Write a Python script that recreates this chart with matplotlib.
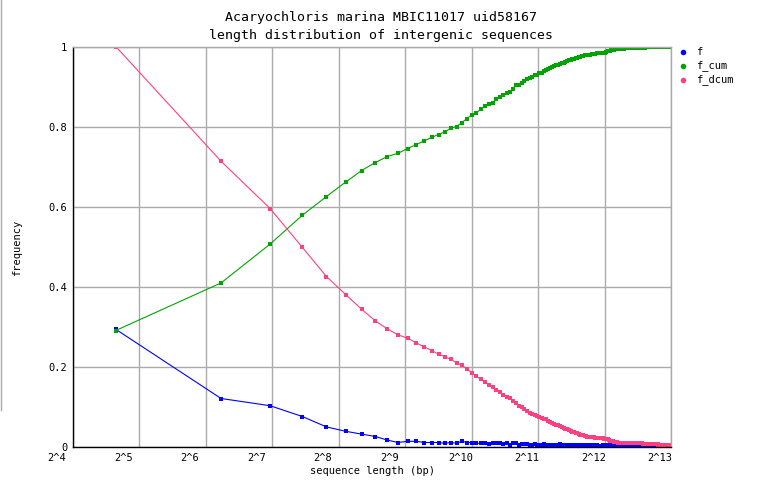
import numpy as np
import matplotlib
matplotlib.use("Agg")
import matplotlib.pyplot as plt
from matplotlib.lines import Line2D
from matplotlib.transforms import offset_copy

plt.rcParams['font.family'] = ['DejaVu Sans Mono']

title1 = "Acaryochloris marina MBIC11017 uid58167"
title2 = "length distribution of intergenic sequences"

# intergenic lengths in 50 bp bins (bin centres 25, 75, ..., 8175)
seq_len = np.arange(25, 8200, 50)

f = [0.293, 0.120, 0.102, 0.075, 0.049, 0.038, 0.031, 0.025, 0.016, 0.010,
     0.013, 0.013, 0.010, 0.010, 0.010, 0.008, 0.010, 0.008, 0.013, 0.010,
     0.010, 0.008, 0.008, 0.010, 0.006, 0.010, 0.010, 0.008, 0.007, 0.008,
     0.004, 0.010, 0.009, 0.004, 0.007, 0.007, 0.006, 0.004, 0.005, 0.006,
     0.004, 0.005, 0.004, 0.006, 0.005, 0.005, 0.004, 0.004, 0.004, 0.004,
     0.004, 0.006, 0.004, 0.003, 0.004, 0.005, 0.004, 0.003, 0.003, 0.004,
     0.003, 0.003, 0.004, 0.003, 0.003, 0.003, 0.003, 0.003, 0.002, 0.003,
     0.002, 0.003, 0.002, 0.003, 0.002, 0.003, 0.002, 0.002, 0.002, 0.002,
     0.003, 0.002, 0.002, 0.004, 0.004, 0.003, 0.003, 0.003, 0.002, 0.003,
     0.002, 0.003, 0.002, 0.003, 0.002, 0.002, 0.003, 0.002, 0.002, 0.002,
     0.002, 0.003, 0.002, 0.002, 0.001, 0.002, 0.002, 0.001, 0.002, 0.002,
     0.002, 0.001, 0.002, 0.002, 0.002, 0.001, 0.002, 0.002, 0.002, 0.001,
     0.003, 0.002, 0.002, 0.002, 0.002, 0.003, 0.002, 0.002, 0.001, 0.002,
     0.002, 0.002, 0.001, 0.002, 0.002, 0.002, 0.001, 0.002, 0.002, 0.002,
     0.002, 0.003, 0.002, 0.002, 0.001, 0.002, 0.002, 0.002, 0.001, 0.002,
     0.002, 0.003, 0.002, 0.002, 0.002, 0.001, 0.002, 0.002, 0.002, 0.002,
     0.002, 0.001, 0.002, 0.002]

f_cum = [0.290, 0.409, 0.506, 0.578, 0.625, 0.661, 0.690, 0.710, 0.725, 0.733,
         0.745, 0.755, 0.764, 0.773, 0.780, 0.787, 0.796, 0.800, 0.810, 0.820,
         0.829, 0.834, 0.843, 0.851, 0.856, 0.860, 0.868, 0.874, 0.879, 0.885,
         0.887, 0.895, 0.903, 0.905, 0.910, 0.915, 0.919, 0.921, 0.924, 0.928,
         0.930, 0.933, 0.935, 0.939, 0.942, 0.945, 0.947, 0.949, 0.951, 0.953,
         0.955, 0.957, 0.959, 0.960, 0.962, 0.964, 0.966, 0.967, 0.968, 0.970,
         0.971, 0.972, 0.974, 0.975, 0.976, 0.977, 0.978, 0.979, 0.979, 0.980,
         0.980, 0.981, 0.981, 0.982, 0.982, 0.983, 0.983, 0.983, 0.983, 0.983,
         0.984, 0.984, 0.984, 0.986, 0.988, 0.989, 0.990, 0.991, 0.991, 0.992,
         0.992, 0.993, 0.993, 0.994, 0.994, 0.994, 0.995, 0.995, 0.995, 0.995,
         0.995, 0.996, 0.996, 0.996, 0.996, 0.996, 0.996, 0.996, 0.996, 0.996,
         0.996, 0.996, 0.996, 0.996, 0.996, 0.996, 0.996, 0.996, 0.996, 0.996,
         0.997, 0.997, 0.997, 0.997, 0.997, 0.998, 0.998, 0.998, 0.998, 0.998,
         0.998, 0.998, 0.998, 0.998, 0.998, 0.998, 0.998, 0.998, 0.998, 0.998,
         0.998, 0.999, 0.999, 0.999, 0.999, 0.999, 0.999, 0.999, 0.999, 0.999,
         0.999, 1.000, 1.000, 1.000, 1.000, 1.000, 1.000, 1.000, 1.000, 1.000,
         1.000, 1.000, 1.000, 1.000]

f_dcum = [1.000, 0.713, 0.595, 0.498, 0.425, 0.380, 0.343, 0.314, 0.294, 0.279,
          0.271, 0.259, 0.249, 0.240, 0.231, 0.224, 0.218, 0.209, 0.203, 0.194,
          0.184, 0.176, 0.168, 0.161, 0.154, 0.148, 0.141, 0.136, 0.130, 0.125,
          0.121, 0.115, 0.109, 0.102, 0.098, 0.093, 0.089, 0.085, 0.082, 0.079,
          0.077, 0.074, 0.072, 0.070, 0.068, 0.065, 0.062, 0.059, 0.057, 0.055,
          0.053, 0.051, 0.049, 0.047, 0.045, 0.043, 0.041, 0.039, 0.037, 0.036,
          0.034, 0.033, 0.032, 0.030, 0.029, 0.028, 0.027, 0.026, 0.025, 0.025,
          0.024, 0.024, 0.023, 0.023, 0.022, 0.022, 0.021, 0.021, 0.021, 0.021,
          0.021, 0.020, 0.020, 0.019, 0.018, 0.016, 0.015, 0.014, 0.013, 0.013,
          0.012, 0.012, 0.011, 0.011, 0.010, 0.010, 0.010, 0.009, 0.009, 0.009,
          0.009, 0.009, 0.009, 0.009, 0.008, 0.008, 0.008, 0.008, 0.008, 0.008,
          0.008, 0.008, 0.008, 0.008, 0.008, 0.008, 0.008, 0.008, 0.008, 0.008,
          0.008, 0.008, 0.007, 0.007, 0.007, 0.007, 0.007, 0.007, 0.007, 0.007,
          0.007, 0.007, 0.007, 0.007, 0.007, 0.007, 0.007, 0.007, 0.007, 0.007,
          0.007, 0.007, 0.007, 0.005, 0.004, 0.004, 0.004, 0.004, 0.004, 0.004,
          0.004, 0.004, 0.004, 0.003, 0.003, 0.003, 0.003, 0.003, 0.003, 0.003,
          0.003, 0.003, 0.003, 0.003]

series_names = ["f", "f_cum", "f_dcum"]
colors = ["#0000ff", "#00a400", "#ff4080"]
grid_col = "#aaaaaa"

W, H = 762, 498
fig = plt.figure(figsize=(W / 100, H / 100), dpi=100)
ax = fig.add_axes([73 / W, 1 - 446.5 / H, (671 - 73) / W, 400 / H])

for name, vals, c in zip(series_names, [f, f_cum, f_dcum], colors):
    ax.plot(seq_len, vals, color=c, lw=0.8, marker='s', ms=2.2, mew=0, label=name)

ax.set_xscale('log', base=2)
ax.set_xlim(2 ** 4, 2 ** 13)
ax.set_ylim(0, 1)

ax.set_xticks([2 ** k for k in range(4, 14)])
ax.set_xticklabels([])
ax.minorticks_off()
ax.set_yticks([0, 0.2, 0.4, 0.6, 0.8, 1])
ax.set_yticklabels(["0", "0.2", "0.4", "0.6", "0.8", "1"], fontsize=7.5)
ax.tick_params(length=0)
ax.tick_params(axis='y', pad=4)
ax.grid(True, color=grid_col, lw=1)
ax.set_axisbelow(True)

for s in ['top', 'right']:
    ax.spines[s].set_color(grid_col)
for s in ['left', 'bottom']:
    ax.spines[s].set_color('black')
for s in ax.spines.values():
    s.set_linewidth(1)

# x tick labels sit left of their gridline, as in the original
for k in range(4, 14):
    lab = "2^%d" % k
    dx = -16 + (len(lab) - 3) * 5
    tr = offset_copy(ax.get_xaxis_transform(), fig=fig, x=dx, y=-11, units='dots')
    ax.text(2 ** k, 0, lab, transform=tr, ha='center', va='center', fontsize=7.5)

fig.text(0.5, 1 - 18 / H, title1, ha='center', va='center', fontsize=9.5)
fig.text(0.5, 1 - 36 / H, title2, ha='center', va='center', fontsize=9.5)
fig.text(372 / W, 1 - 471 / H, "sequence length (bp)", ha='center', va='center', fontsize=7.5)
fig.text(17 / W, 1 - 248 / H, "frequency", ha='center', va='center', rotation=90, fontsize=7.5)

# legend on the right
for i, (name, c) in enumerate(zip(series_names, colors)):
    y = 1 - (52 + 14 * i) / H
    fig.add_artist(Line2D([683 / W], [y], marker='o', ms=4, mew=0, color=c))
    fig.text(696 / W, y, name, ha='left', va='center', fontsize=7.5)

fig.add_artist(Line2D([0.5 / W, 0.5 / W], [1 - 410 / H, 1], color=grid_col, lw=1))

fig.savefig("out.png", dpi=100)
